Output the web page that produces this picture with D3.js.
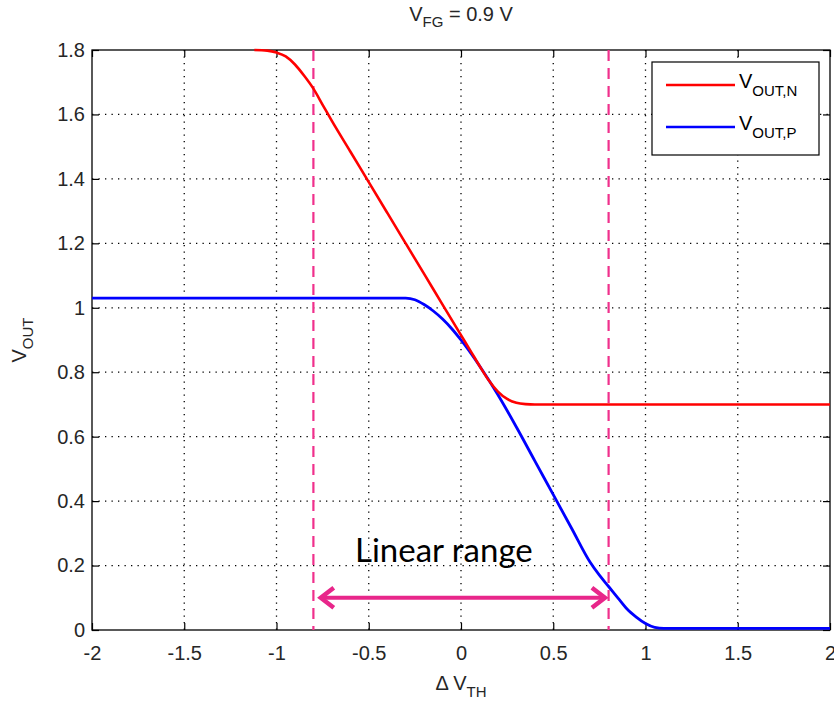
<!DOCTYPE html>
<html><head><meta charset="utf-8">
<script src="https://cdn.jsdelivr.net/npm/d3@7"></script>
<style>
body{margin:0;background:#fff;}
text{font-family:'Liberation Sans',Arial,sans-serif;}
</style></head>
<body><svg id="c" width="834" height="702"></svg>
<script>
const xTicks=[-2,-1.5,-1,-0.5,0,0.5,1,1.5,2];
const yTicks=[0,0.2,0.4,0.6,0.8,1,1.2,1.4,1.6,1.8];
const nX=[-1.12,-1.05,-1.0,-0.95,-0.9,-0.85,-0.8,-0.75,-0.7,-0.6,-0.5,-0.4,-0.3,-0.2,-0.1,0,0.05,0.1,0.15,0.2,0.25,0.3,0.35,0.4,1,2];
const nY=[1.8,1.798,1.792,1.78,1.755,1.72,1.68,1.63,1.58,1.485,1.39,1.295,1.2,1.105,1.01,0.915,0.868,0.82,0.775,0.74,0.717,0.705,0.701,0.70,0.70,0.70];
const pX=[-2,-1,-0.3,-0.25,-0.2,-0.15,-0.1,-0.05,0,0.1,0.2,0.3,0.4,0.5,0.6,0.7,0.75,0.8,0.85,0.9,0.95,1.0,1.05,1.1,2];
const pY=[1.03,1.03,1.03,1.025,1.01,0.99,0.965,0.935,0.9,0.82,0.73,0.63,0.525,0.42,0.315,0.21,0.17,0.135,0.1,0.065,0.04,0.02,0.008,0.005,0.005];
const rangeBounds=[-0.8,0.8];
const arrowSpan=[-0.76,0.78];
const arrowY=0.1;

const svg=d3.select("#c");
const L=92,R=830,T=50,B=630;
const x=d3.scaleLinear().domain([-2,2]).range([L,R]);
const y=d3.scaleLinear().domain([0,1.8]).range([B,T]);
const tickCol="#262626";

// grid
const g=svg.append("g");
g.selectAll(".gx").data(xTicks.slice(1,-1)).enter().append("line")
 .attr("x1",d=>x(d)).attr("x2",d=>x(d)).attr("y1",T).attr("y2",B)
 .attr("stroke","#000").attr("stroke-width",1.3).attr("stroke-dasharray","1.3,5.2");
g.selectAll(".gy").data(yTicks.slice(1,-1)).enter().append("line")
 .attr("y1",d=>y(d)).attr("y2",d=>y(d)).attr("x1",L).attr("x2",R)
 .attr("stroke","#000").attr("stroke-width",1.3).attr("stroke-dasharray","1.3,5.2");

// axes (MATLAB box, inward ticks)
const ax=(sel,axis)=>{sel.call(axis);sel.select(".domain").remove();sel.selectAll("line").attr("stroke","#000").attr("stroke-width",1.2);sel.selectAll("text").attr("fill",tickCol).attr("font-size",20).style("font-family","'Liberation Sans',Arial,sans-serif");};
const fmt=d=>String(d);
svg.append("g").attr("transform",`translate(0,${B})`).call(s=>ax(s,d3.axisBottom(x).tickValues(xTicks).tickFormat(fmt).tickSizeInner(-7).tickPadding(16)));
svg.append("g").attr("transform",`translate(0,${T})`).call(s=>ax(s,d3.axisTop(x).tickValues(xTicks).tickFormat("").tickSizeInner(-7)));
svg.append("g").attr("transform",`translate(${L},0)`).call(s=>ax(s,d3.axisLeft(y).tickValues(yTicks).tickFormat(fmt).tickSizeInner(-7).tickPadding(7)));
svg.append("g").attr("transform",`translate(${R},0)`).call(s=>ax(s,d3.axisRight(y).tickValues(yTicks).tickFormat("").tickSizeInner(-7)));
svg.append("rect").attr("x",L).attr("y",T).attr("width",R-L).attr("height",B-T).attr("fill","none").attr("stroke","#000").attr("stroke-width",1.3);

// range dashed lines
svg.selectAll(".rb").data(rangeBounds).enter().append("line")
 .attr("x1",d=>x(d)).attr("x2",d=>x(d)).attr("y1",T).attr("y2",B)
 .attr("stroke","#f0308c").attr("stroke-width",2.2).attr("stroke-dasharray","11,7");

// curves
const line=d3.line().x(d=>x(d[0])).y(d=>y(d[1])).curve(d3.curveMonotoneX);
svg.append("path").datum(pX.map((v,i)=>[v,pY[i]])).attr("d",line).attr("fill","none").attr("stroke","#0000ff").attr("stroke-width",2.8);
svg.append("path").datum(nX.map((v,i)=>[v,nY[i]])).attr("d",line).attr("fill","none").attr("stroke","#ff0000").attr("stroke-width",2.6);

// arrow
const ac="#e8268a";
const ay=y(arrowY);
svg.append("line").attr("x1",x(arrowSpan[0])+3).attr("x2",x(arrowSpan[1])-3).attr("y1",ay).attr("y2",ay).attr("stroke",ac).attr("stroke-width",4);
svg.append("path").attr("d",`M${x(arrowSpan[0])+13},${ay-10} L${x(arrowSpan[0])},${ay} L${x(arrowSpan[0])+13},${ay+10}`).attr("fill","none").attr("stroke",ac).attr("stroke-width",4.5);
svg.append("path").attr("d",`M${x(arrowSpan[1])-13},${ay-10} L${x(arrowSpan[1])},${ay} L${x(arrowSpan[1])-13},${ay+10}`).attr("fill","none").attr("stroke",ac).attr("stroke-width",4.5);
svg.append("text").attr("x",x(-0.093)).attr("y",y(0.211)).attr("text-anchor","middle").attr("font-size",33)
 .style("font-family","Lato,'Open Sans',sans-serif").attr("fill","#000").text("Linear range");

// title and labels
const t=svg.append("text").attr("x",461).attr("y",21).attr("text-anchor","middle").attr("font-size",20).attr("fill",tickCol);
t.append("tspan").text("V");t.append("tspan").attr("font-size",15).attr("dy",6).text("FG");t.append("tspan").attr("dy",-6).text(" = 0.9 V");
const xl=svg.append("text").attr("x",461).attr("y",690).attr("text-anchor","middle").attr("font-size",20).attr("fill",tickCol);
xl.append("tspan").text("Δ V");xl.append("tspan").attr("font-size",15).attr("dy",7).text("TH");
const yl=svg.append("text").attr("transform","translate(26,340) rotate(-90)").attr("text-anchor","middle").attr("font-size",20).attr("fill",tickCol);
yl.append("tspan").text("V");yl.append("tspan").attr("font-size",15).attr("dy",7).text("OUT");

// legend
const lg=svg.append("g");
lg.append("rect").attr("x",652).attr("y",62).attr("width",167).attr("height",93).attr("fill","#fff").attr("stroke","#000").attr("stroke-width",1.2);
const lc=["#ff0000","#0000ff"];
const subs=["OUT,N","OUT,P"];
[0,1].forEach(i=>{
 const yy=85+i*42;
 lg.append("line").attr("x1",666).attr("x2",735).attr("y1",yy).attr("y2",yy).attr("stroke",lc[i]).attr("stroke-width",2.6);
 const tt=lg.append("text").attr("x",739).attr("y",yy+3).attr("font-size",20).attr("fill","#000");
 tt.append("tspan").text("V");tt.append("tspan").attr("font-size",15).attr("dy",8).text(subs[i]);
});
</script></body></html>
